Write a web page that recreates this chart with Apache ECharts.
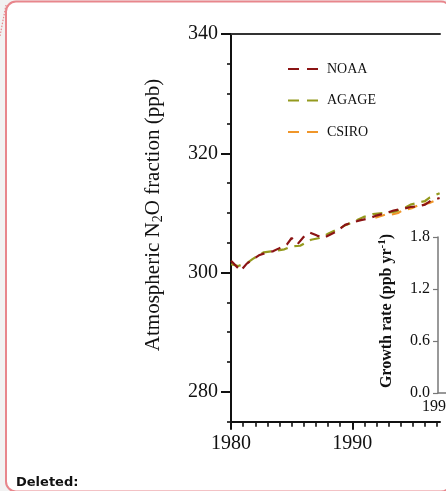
<!DOCTYPE html>
<html>
<head>
<meta charset="utf-8">
<script src="https://cdn.jsdelivr.net/npm/echarts@6/dist/echarts.min.js"></script>
<style>
html,body{margin:0;padding:0;background:#f2f2f2;}
#chart{width:446px;height:491px;}
</style>
</head>
<body>
<div id="chart"></div>
<script>
// ---- data ----
const noaaYears  = [1980.0,1980.8,1981.3,1982.3,1983.0,1983.5,1984.0,1984.6,1985.0,1985.5,1986.0,1986.5,1987.1,1987.6,1988.2,1988.7,1989.4,1990.0,1990.7,1991.4,1991.9,1992.8,1993.4,1994.2,1994.8,1995.4,1996.0,1996.5,1997.2];
const noaaValues = [302.0,300.3,301.5,302.9,303.4,303.6,304.1,304.7,305.8,304.8,306.0,306.7,306.2,305.8,306.4,306.9,308.0,308.4,308.8,309.1,309.5,310.0,310.4,310.7,311.0,311.1,311.4,312.1,312.5];
const agageYears  = [1980.0,1980.6,1981.4,1981.8,1982.7,1983.5,1984.4,1985.0,1985.7,1986.6,1987.3,1988.0,1988.8,1989.5,1990.3,1990.9,1991.7,1992.6,1993.5,1994.3,1994.8,1995.4,1996.0,1996.4,1997.2];
const agageValues = [301.4,301.1,301.7,302.3,303.4,303.6,303.9,304.4,304.5,305.5,305.8,306.5,307.3,308.0,308.7,309.3,309.8,310.0,310.2,310.8,311.4,311.7,312.0,312.6,313.3];
const csiroYears  = [1991.9,1992.7,1993.2,1993.8,1994.1,1994.9,1995.6,1996.4,1997.2];
const csiroValues = [309.2,309.7,309.7,310.0,310.4,310.8,311.4,311.7,312.4];

const xMajorTicks = [1980, 1990];
const xMinorTicks = [1981,1982,1983,1984,1985,1986,1987,1988,1989,1991,1992,1993,1994,1995,1996,1997];
const yMajorTicks = [280, 300, 320, 340];
const yMinorTicks = [275,285,290,295,305,310,315,325,330,335];
const insetYTicks = [0, 0.6, 1.2, 1.8];
const insetXTicks = [1990];

const zip = (a, b) => a.map((v, i) => [v, b[i]]);
const SERIF = '"Liberation Serif","Times New Roman",serif';
const DASH_ICON = 'path://M0,0H11V2.2H0Z M19,0H30V2.2H19Z';

const chart = echarts.init(document.getElementById('chart'), null, {renderer: 'canvas'});

const baseX = {min: 1980, max: 1997.23, type: 'value', gridIndex: 0, splitLine: {show: false}};
const baseY = {min: 275, max: 340, type: 'value', gridIndex: 0, splitLine: {show: false}};

chart.setOption({
  backgroundColor: '#f2f2f2',
  animation: false,
  graphic: [
    {type: 'rect', z: -10, silent: true,
     shape: {x: 6, y: 1.5, width: 445, height: 490, r: 10},
     style: {fill: '#ffffff', stroke: '#e8868c', lineWidth: 2}},
    {type: 'line', z: -9, silent: true,
     shape: {x1: 6, y1: 5, x2: 0, y2: 36},
     style: {stroke: '#e8868c', lineWidth: 1.2, lineDash: [1.5, 1.5]}},
    {type: 'text', silent: true, x: 16, y: 483,
     style: {text: 'Deleted:', font: 'bold 13px "DejaVu Sans", sans-serif', fill: '#111', verticalAlign: 'middle', align: 'left'}},
    {type: 'text', silent: true, x: 153, y: 215, rotation: Math.PI / 2,
     style: {text: 'Atmospheric N{sub|2}O fraction (ppb)', fontFamily: SERIF, fontSize: 21, fill: '#111',
             align: 'center', verticalAlign: 'middle', lineHeight: 24,
             rich: {sub: {fontFamily: SERIF, fontSize: 14, lineHeight: 10, verticalAlign: 'bottom', fill: '#111'}}}},
    {type: 'text', silent: true, x: 387, y: 311, rotation: Math.PI / 2,
     style: {text: 'Growth rate (ppb yr{sup|-1})', fontFamily: SERIF, fontSize: 16, fontWeight: 'bold', fill: '#111',
             align: 'center', verticalAlign: 'middle', lineHeight: 20,
             rich: {sup: {fontFamily: SERIF, fontSize: 11, fontWeight: 'bold', lineHeight: 10, verticalAlign: 'top', fill: '#111'}}}}
  ],
  legend: {
    orient: 'vertical', left: 288, top: 62, padding: 0, itemWidth: 30, itemHeight: 14, itemGap: 17.5,
    data: [
      {name: 'NOAA', icon: DASH_ICON},
      {name: 'AGAGE', icon: DASH_ICON},
      {name: 'CSIRO', icon: DASH_ICON}
    ],
    textStyle: {fontFamily: SERIF, fontSize: 14, color: '#111', padding: [0, 0, 0, 4]}
  },
  grid: [
    {left: 231, top: 34, right: 6, bottom: 69.3, containLabel: false},
    {left: 438, top: 237, width: 200, height: 156, containLabel: false}
  ],
  xAxis: [
    Object.assign({}, baseX, {position: 'bottom',
      axisLine: {show: true, onZero: false, lineStyle: {color: '#111', width: 2}},
      axisTick: {show: true, customValues: xMinorTicks, length: 5, lineStyle: {color: '#111', width: 1.6}},
      axisLabel: {show: false}}),
    Object.assign({}, baseX, {position: 'bottom',
      axisLine: {show: false, onZero: false},
      axisTick: {show: true, customValues: xMajorTicks, length: 8, lineStyle: {color: '#111', width: 2}},
      axisLabel: {show: true, customValues: xMajorTicks, margin: 12, fontFamily: SERIF, fontSize: 20, color: '#111',
                  formatter: v => String(Math.round(v))}}),
    Object.assign({}, baseX, {position: 'top',
      axisLine: {show: true, onZero: false, lineStyle: {color: '#333', width: 2}},
      axisTick: {show: false}, axisLabel: {show: false}}),
    {type: 'value', gridIndex: 1, min: 1990, max: 2010, position: 'bottom', splitLine: {show: false},
      axisLine: {show: true, onZero: false, lineStyle: {color: '#777', width: 1.5}},
      axisTick: {show: false},
      axisLabel: {show: true, customValues: insetXTicks, margin: 6, fontFamily: SERIF, fontSize: 16, color: '#111',
                  formatter: v => String(Math.round(v))}}
  ],
  yAxis: [
    Object.assign({}, baseY, {position: 'left',
      axisLine: {show: true, onZero: false, lineStyle: {color: '#111', width: 2}},
      axisTick: {show: true, customValues: yMinorTicks, length: 4, lineStyle: {color: '#111', width: 1.6}},
      axisLabel: {show: false}}),
    Object.assign({}, baseY, {position: 'left',
      axisLine: {show: false, onZero: false},
      axisTick: {show: true, customValues: yMajorTicks, length: 10, lineStyle: {color: '#111', width: 2}},
      axisLabel: {show: true, customValues: yMajorTicks, margin: 13, fontFamily: SERIF, fontSize: 20, color: '#111',
                  formatter: v => String(Math.round(v))}}),
    {type: 'value', gridIndex: 1, min: 0, max: 1.8, position: 'left', splitLine: {show: false},
      axisLine: {show: true, onZero: false, lineStyle: {color: '#777', width: 1.5}},
      axisTick: {show: true, customValues: insetYTicks, length: 5, lineStyle: {color: '#777', width: 1.2}},
      axisLabel: {show: true, customValues: insetYTicks, margin: 8, fontFamily: SERIF, fontSize: 16, color: '#111',
                  formatter: v => Number(v).toFixed(1)}}
  ],
  series: [
    {name: 'CSIRO', type: 'line', xAxisIndex: 0, yAxisIndex: 0, symbol: 'none', z: 2,
     data: zip(csiroYears, csiroValues), color: '#f0962a',
     lineStyle: {color: '#f0962a', width: 2.2, type: [10, 7]}},
    {name: 'AGAGE', type: 'line', xAxisIndex: 0, yAxisIndex: 0, symbol: 'none', z: 3,
     data: zip(agageYears, agageValues), color: '#949a1e',
     lineStyle: {color: '#949a1e', width: 2.2, type: [10, 7]}},
    {name: 'NOAA', type: 'line', xAxisIndex: 0, yAxisIndex: 0, symbol: 'none', z: 4,
     data: zip(noaaYears, noaaValues), color: '#8b1414',
     lineStyle: {color: '#8b1414', width: 2.2, type: [10, 7]}}
  ]
});
</script>
</body>
</html>
